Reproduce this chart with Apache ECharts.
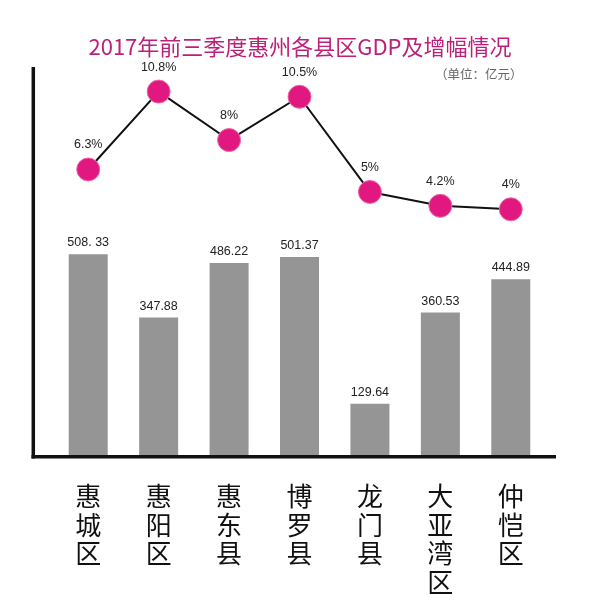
<!DOCTYPE html>
<html>
<head>
<meta charset="utf-8">
<script src="https://cdn.jsdelivr.net/npm/echarts@6/dist/echarts.min.js"></script>
<style>html,body{margin:0;padding:0;background:#fff;}#c{width:600px;height:600px;}</style>
</head>
<body>
<div id="c"></div>
<script>
var categories = ['惠城区','惠阳区','惠东县','博罗县','龙门县','大亚湾区','仲恺区'];
var gdpValues = [508.33, 347.88, 486.22, 501.37, 129.64, 360.53, 444.89];
var gdpLabels = ['508. 33','347.88','486.22','501.37','129.64','360.53','444.89'];
var growthValues = [6.3, 10.8, 8, 10.5, 5, 4.2, 4];

var chart = echarts.init(document.getElementById('c'));
var option = {
  backgroundColor: '#fff',
  animation: false,
  title: [
    {
      text: '2017年前三季度惠州各县区GDP及增幅情况',
      left: 'center', top: 31,
      textStyle: { color: '#bb2179', fontSize: 22, fontWeight: 'normal', fontFamily: 'Noto Sans CJK SC' }
    },
    {
      text: '（单位：亿元）',
      left: 430, top: 63,
      textStyle: { color: '#666', fontSize: 12.5, fontWeight: 'normal', fontFamily: 'Noto Sans CJK SC' }
    }
  ],
  grid: [
    { left: 53, right: 54, top: 139, bottom: 145 },
    { left: 53, right: 54, top: 70.8, bottom: 321.5 }
  ],
  xAxis: [
    {
      type: 'category', gridIndex: 0, data: categories,
      axisLine: { show: false }, axisTick: { show: false },
      axisLabel: {
        margin: 27, fontSize: 26, lineHeight: 28.5, color: '#111',
        fontFamily: 'Noto Sans CJK SC',
        formatter: function (v) { return v.split('').join('\n'); }
      }
    },
    {
      type: 'category', gridIndex: 1, data: categories,
      axisLine: { show: false }, axisTick: { show: false }, axisLabel: { show: false }
    }
  ],
  yAxis: [
    { type: 'value', gridIndex: 0, min: 0, max: 800, show: false, splitLine: { show: false } },
    { type: 'value', gridIndex: 1, min: 0, max: 12, show: false, splitLine: { show: false } }
  ],
  series: [
    {
      type: 'bar', xAxisIndex: 0, yAxisIndex: 0, data: gdpValues, barWidth: 39,
      itemStyle: { color: '#969595' },
      label: {
        show: true, position: 'top', distance: 5, fontSize: 12.5, color: '#222',
        fontFamily: 'Liberation Sans',
        formatter: function (p) { return gdpLabels[p.dataIndex]; }
      }
    },
    {
      type: 'line', xAxisIndex: 1, yAxisIndex: 1, data: growthValues,
      symbol: 'circle', symbolSize: 23,
      itemStyle: { color: '#e0187f', borderColor: '#f06aa8', borderWidth: 1 },
      lineStyle: { color: '#111', width: 2 },
      label: {
        show: true, position: 'top', distance: 6, fontSize: 12.5, color: '#222',
        fontFamily: 'Liberation Sans', formatter: '{c}%'
      },
      z: 5
    }
  ],
  graphic: [
    { type: 'line', shape: { x1: 33.3, y1: 67, x2: 33.3, y2: 458.5 }, style: { stroke: '#111', lineWidth: 3.5 } },
    { type: 'line', shape: { x1: 31.5, y1: 456.7, x2: 556, y2: 456.7 }, style: { stroke: '#111', lineWidth: 3.5 } }
  ]
};
chart.setOption(option);
</script>
</body>
</html>
